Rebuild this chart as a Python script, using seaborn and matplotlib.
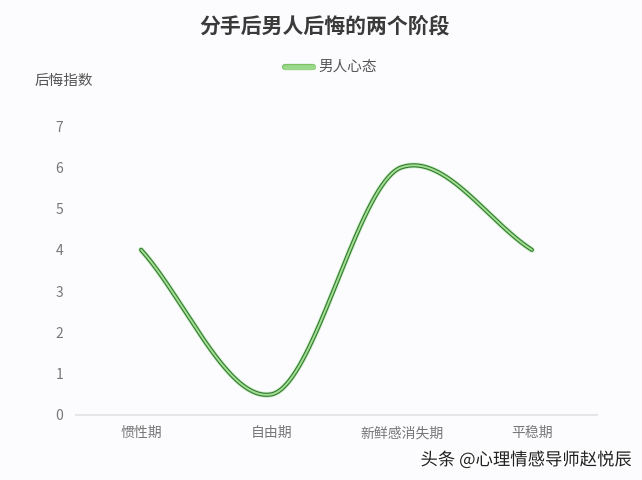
import numpy as np
import pandas as pd
import matplotlib
matplotlib.use("Agg")
import matplotlib.pyplot as plt
import matplotlib.patheffects as pe
import seaborn as sns

# ---- data ----
categories = ["惯性期", "自由期", "新鲜感消失期", "平稳期"]
values = [4, 0.5, 6, 4]
series_name = "男人心态"
title = "分手后男人后悔的两个阶段"
ylabel = "后悔指数"
watermark = "头条 @心理情感导师赵悦辰"
yticks = [0, 1, 2, 3, 4, 5, 6, 7]

sns.set_theme(style="white")
plt.rcParams['font.family'] = ['Noto Sans CJK SC', 'DejaVu Sans']

bg = "#fcfcfe"
fig = plt.figure(figsize=(6.42, 4.80), dpi=100, facecolor=bg)
ax = fig.add_axes([76/642, 65/480, (597-76)/642, (415-126)/480])
ax.set_facecolor(bg)

# smooth curve (cardinal spline through the data points)
x = np.arange(len(values), dtype=float)
y = np.array(values, dtype=float)
k = 0.6
m = np.zeros_like(y)
m[1:-1] = k * (y[2:] - y[:-2]) / 2
m[0] = y[1] - y[0]
m[-1] = y[-1] - y[-2]
xs, ys = [], []
for i in range(len(y) - 1):
    t = np.linspace(0, 1, 80)
    h00 = 2*t**3 - 3*t**2 + 1
    h10 = t**3 - 2*t**2 + t
    h01 = -2*t**3 + 3*t**2
    h11 = t**3 - t**2
    xs.append(x[i] + t)
    ys.append(h00*y[i] + h10*m[i] + h01*y[i+1] + h11*m[i+1])
df = pd.DataFrame({"x": np.concatenate(xs), "y": np.concatenate(ys), "s": series_name})

sns.lineplot(data=df, x="x", y="y", hue="s", palette=["#a3dc93"], ax=ax,
             linewidth=1.4, sort=False, estimator=None, legend=False,
             path_effects=[pe.Stroke(linewidth=4.2, foreground="#9fe08f", alpha=0.5),
                           pe.Stroke(linewidth=3.0, foreground="#2f7a2f"),
                           pe.Normal()])

ax.set_xlim(-0.5, len(categories) - 0.5)
ax.set_ylim(0, 7)
ax.set_xticks(range(len(categories)))
ax.set_xticklabels(categories, fontsize=10, color="#777777")
ax.set_yticks(yticks)
ax.set_yticklabels([str(v) for v in yticks], fontsize=10, color="#777777")
ax.tick_params(axis="both", length=0)
ax.tick_params(axis="y", pad=9)
ax.tick_params(axis="x", pad=8)
ax.set_xlabel("")
ax.set_ylabel("")
for s in ["top", "right", "left"]:
    ax.spines[s].set_visible(False)
ax.spines["bottom"].set_color("#e6e6ea")
ax.spines["bottom"].set_linewidth(1.5)

fig.text(0.505, 0.945, title, ha="center", va="center", fontsize=15,
         fontweight="bold", color="#3a3a3a")
fig.text(35/642, 1 - 81/480, ylabel, ha="left", va="center", fontsize=10.5, color="#555555")

# legend
lx0, lx1, ly = 285/642, 313/642, 1 - 67/480
fig.lines.append(plt.Line2D([lx0, lx1], [ly, ly], transform=fig.transFigure,
                            color="#9ad88a", linewidth=3.5,
                            path_effects=[pe.Stroke(linewidth=4.5, foreground="#7cc06a"), pe.Normal()]))
fig.text(318/642, ly, series_name, ha="left", va="center", fontsize=10.5, color="#555555")

fig.text(632/642, 1 - 460/480, watermark, ha="right", va="center", fontsize=12.5,
         color="#222222",
         path_effects=[pe.withStroke(linewidth=2, foreground="#ffffff")])

fig.savefig("out.png", dpi=100, facecolor=bg)
